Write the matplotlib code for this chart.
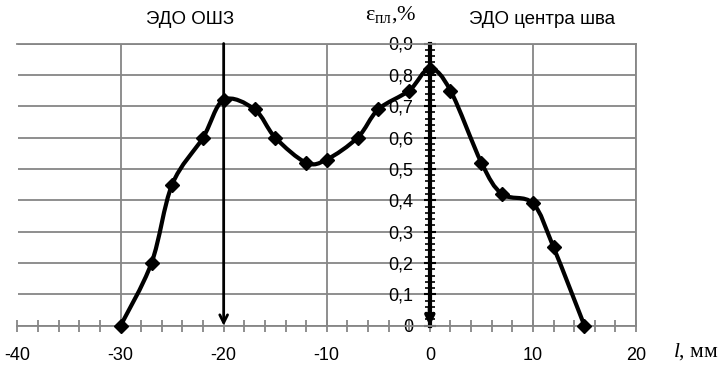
import matplotlib
matplotlib.use("Agg")
import matplotlib.pyplot as plt
from matplotlib.path import Path
from matplotlib.patches import PathPatch
from matplotlib.ticker import MultipleLocator, FuncFormatter
import numpy as np

# Data
l_mm = [-30, -27, -25, -22, -20, -17, -15, -12, -10, -7, -5, -2, 0, 2, 5, 7, 10, 12, 15]
eps_pl = [0.0, 0.2, 0.45, 0.6, 0.72, 0.69, 0.6, 0.52, 0.53, 0.6, 0.69, 0.75, 0.82,
          0.75, 0.52, 0.42, 0.39, 0.25, 0.0]
x_ticks = [-40, -30, -20, -10, 0, 10, 20]
y_ticks = [0, 0.1, 0.2, 0.3, 0.4, 0.5, 0.6, 0.7, 0.8, 0.9]
label_left = "ЭДО ОШЗ"
label_right = "ЭДО центра шва"

plt.rcParams['mathtext.fontset'] = 'custom'
plt.rcParams['mathtext.rm'] = 'Liberation Serif'
plt.rcParams['mathtext.it'] = 'Liberation Serif:italic'

fig = plt.figure(figsize=(7.21, 3.67), dpi=100)
ax = fig.add_axes([17.5 / 721, 1 - 325.7 / 367, (636 - 17.5) / 721, (325.7 - 43.5) / 367])
ax.set_xlim(-40, 20)
ax.set_ylim(0, 0.9)

grid_c = '#868686'
grid_lw = 1.3

ax.set_xticks(x_ticks)
ax.set_yticks(y_ticks)
ax.xaxis.set_minor_locator(MultipleLocator(2))
ax.yaxis.set_minor_locator(MultipleLocator(0.02))
ax.grid(True, which='major', color=grid_c, lw=grid_lw)
ax.set_axisbelow(True)

for s in ['top', 'right']:
    ax.spines[s].set_color(grid_c)
    ax.spines[s].set_linewidth(grid_lw)
ax.spines['bottom'].set_color(grid_c)
ax.spines['bottom'].set_linewidth(grid_lw)
ax.spines['left'].set_position(('data', 0))
ax.spines['left'].set_color('black')
ax.spines['left'].set_linewidth(3)
ax.axvline(-40, color=grid_c, lw=grid_lw, zorder=1)

fmt = FuncFormatter(lambda v, p: ('%g' % round(v, 2)).replace('.', ','))
ax.yaxis.set_major_formatter(fmt)
ax.xaxis.set_major_formatter(FuncFormatter(lambda v, p: '%d' % v))

ax.tick_params(axis='x', which='major', direction='inout', length=9, width=grid_lw,
               color=grid_c, labelsize=13, pad=11, labelfontfamily='Liberation Sans')
ax.tick_params(axis='x', which='minor', direction='inout', length=8, width=grid_lw,
               color=grid_c)
ax.tick_params(axis='y', which='major', direction='inout', length=8, width=1.5,
               color='black', labelsize=13, pad=8, labelfontfamily='Liberation Sans')
ax.tick_params(axis='y', which='minor', direction='inout', length=7, width=1.2,
               color='black')

# Smoothed curve (Excel-like Bezier through data points)
xs = np.array(l_mm, dtype=float)
ys = np.array(eps_pl, dtype=float)
n = len(xs)
verts = [(xs[0], ys[0])]
codes = [Path.MOVETO]
for i in range(n - 1):
    i0 = max(i - 1, 0)
    i3 = min(i + 2, n - 1)
    c1 = (xs[i] + (xs[i + 1] - xs[i0]) / 6, ys[i] + (ys[i + 1] - ys[i0]) / 6)
    c2 = (xs[i + 1] - (xs[i3] - xs[i]) / 6, ys[i + 1] - (ys[i3] - ys[i]) / 6)
    verts += [c1, c2, (xs[i + 1], ys[i + 1])]
    codes += [Path.CURVE4] * 3
patch = PathPatch(Path(verts, codes), facecolor='none', edgecolor='black', lw=3,
                  transform=ax.transData, zorder=4, clip_on=False, capstyle='round',
                  joinstyle='round')
ax.add_patch(patch)
ax.plot(l_mm, eps_pl, ls='none', marker='D', ms=7.5, color='black', zorder=5,
        clip_on=False)

# Arrows
ax.annotate('', xy=(-20, 0), xytext=(-20, 0.9),
            arrowprops=dict(arrowstyle='->', lw=2, color='black', shrinkA=0,
                            shrinkB=0, mutation_scale=14), zorder=3)
ax.annotate('', xy=(0, 0), xytext=(0, 0.06),
            arrowprops=dict(arrowstyle='->', lw=3, color='black', shrinkA=0,
                            shrinkB=0, mutation_scale=13), zorder=3)

# Labels
fig.text(190 / 721, 1 - 19 / 367, label_left, ha='center', va='center',
         fontsize=13.5, family='Liberation Sans')
fig.text(542 / 721, 1 - 19 / 367, label_right, ha='center', va='center',
         fontsize=13.5, family='Liberation Sans')
fig.text(391 / 721, 1 - 15 / 367, r'$\mathrm{ε_{пл}}$,%', ha='center', va='center',
         fontsize=16, family='Liberation Serif')
fig.text(696 / 721, 1 - 352 / 367, r'$\mathit{l}$, мм', ha='center', va='center',
         fontsize=15.5, family='Liberation Serif')

fig.savefig('out.png', dpi=100)
